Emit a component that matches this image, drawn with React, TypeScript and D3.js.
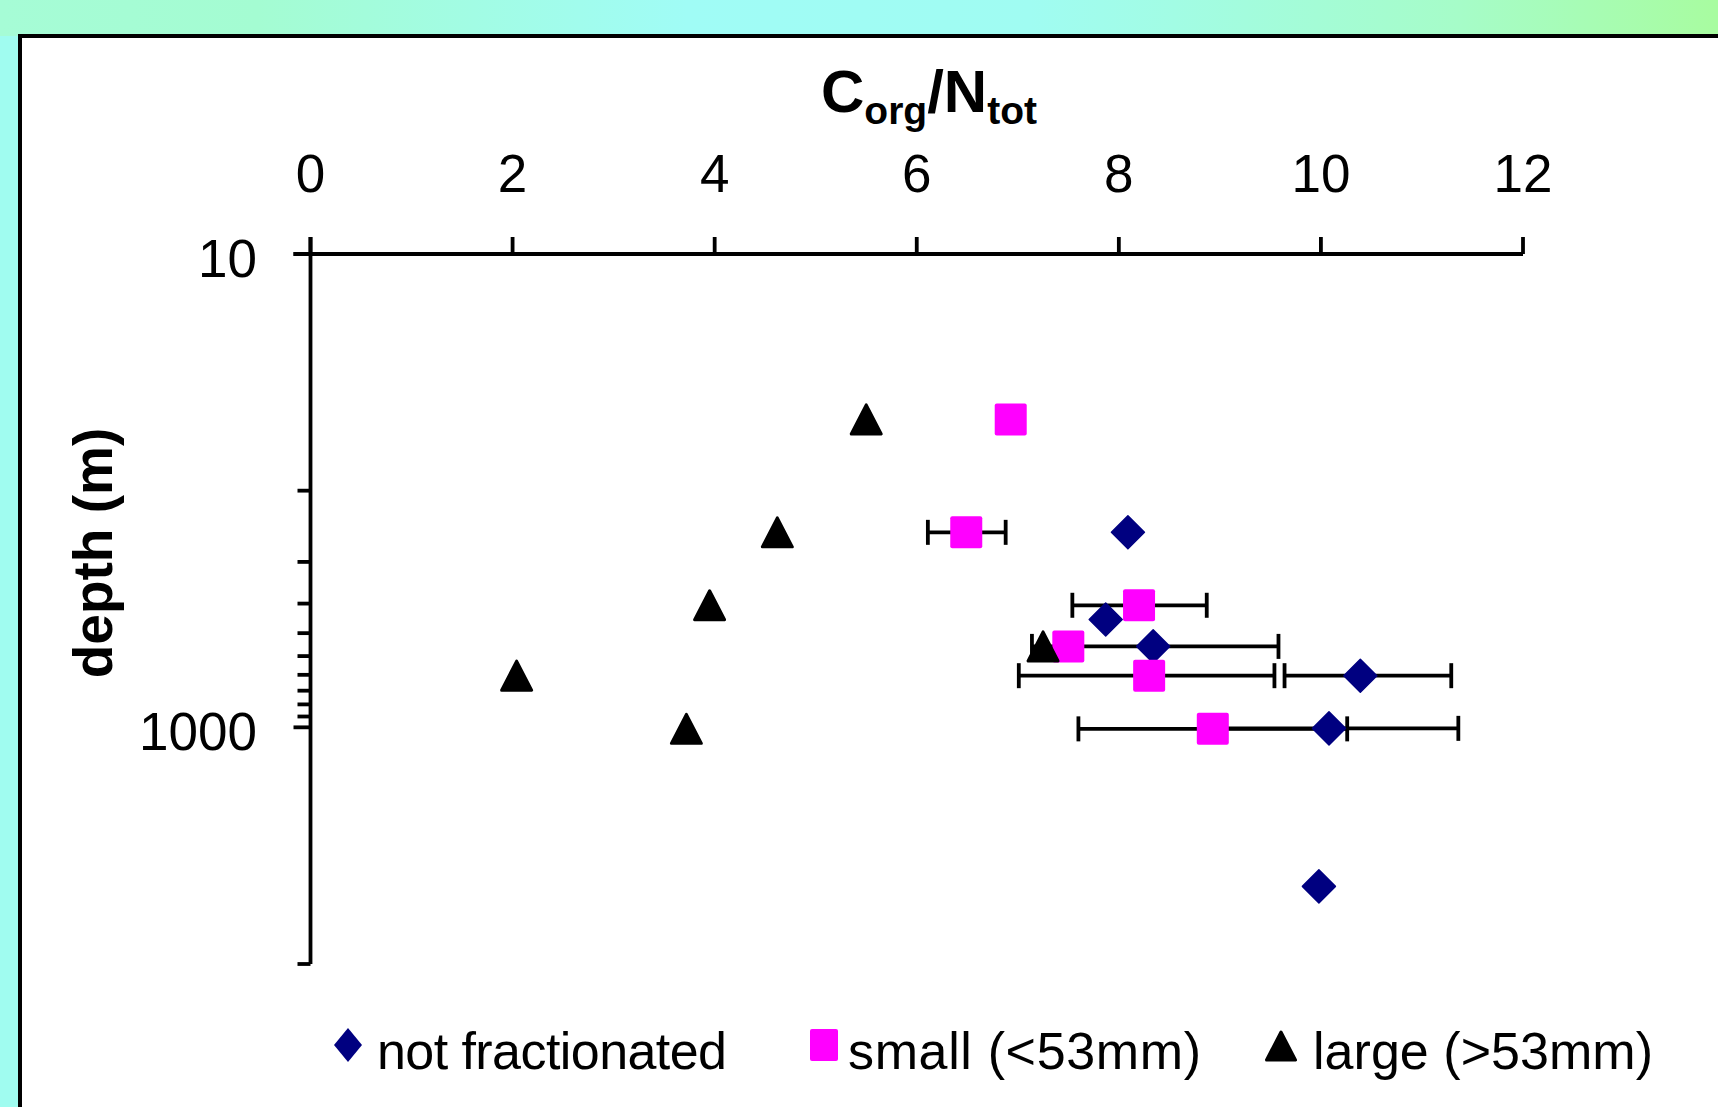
import React from 'react';
import * as d3 from 'd3';

// C/N ratio vs depth, three particle fractions
const nfDepth = [150, 350, 455, 605, 1010, 4700];
const nfRatio = [8.09, 7.87, 8.34, 10.39, 10.08, 9.98];
const nfErrMinus = [0, 0, 1.2, 0.75, 1.28, 0];
const nfErrPlus = [0, 0, 1.24, 0.9, 1.28, 0];

const smallDepth = [50, 150, 305, 455, 605, 1015];
const smallRatio = [6.93, 6.49, 8.2, 7.5, 8.3, 8.93];
const smallErrMinus = [0, 0.38, 0.66, 0, 1.29, 1.33];
const smallErrPlus = [0, 0.39, 0.67, 0, 1.24, 1.33];

const largeDepth = [50, 150, 305, 455, 605, 1015];
const largeRatio = [5.5, 4.62, 3.95, 7.25, 2.04, 3.72];

const xTicks = [0, 2, 4, 6, 8, 10, 12];
const yMajorTicks = [10, 1000];
const yMinorTicks = [100, 200, 300, 400, 500, 600, 700, 800, 900, 10000];

const legendLabels = ['not fractionated', 'small (<53mm)', 'large (>53mm)'];

const W = 1718;
const H = 1107;
const FONT = '"Liberation Sans", Arial, sans-serif';
const LW = 3.8;

const x = d3.scaleLinear().domain([0, 12]).range([310.5, 1523]);
const y = d3.scaleLog().domain([10, 10000]).range([254, 964]);

const diamondPath = (w, h) => `M0,${-h / 2}L${w / 2},0L0,${h / 2}L${-w / 2},0Z`;
const trianglePath = (w, h) => `M0,${-h / 2}L${w / 2},${h / 2}L${-w / 2},${h / 2}Z`;

const ErrorBar = ({ v, d, lo, hi }) => {
  if (!lo && !hi) return null;
  const yy = y(d);
  const x1 = x(v - lo);
  const x2 = x(v + hi);
  return (
    <g stroke="#000" strokeWidth={LW}>
      <line x1={x1} x2={x2} y1={yy} y2={yy} />
      <line x1={x1} x2={x1} y1={yy - 12.5} y2={yy + 12.5} />
      <line x1={x2} x2={x2} y1={yy - 12.5} y2={yy + 12.5} />
    </g>
  );
};

export default function App() {
  return (
    <div style={{ position: 'absolute', left: 0, top: 0 }}>
      <svg width={W} height={H} style={{ display: 'block' }} fontFamily={FONT}>
        <defs>
          <linearGradient id="topBand" x1="0" x2="1" y1="0" y2="0">
            <stop offset="0" stopColor="#a6fcd6" />
            <stop offset="0.15" stopColor="#a4fcd2" />
            <stop offset="0.4" stopColor="#a0fcf6" />
            <stop offset="0.6" stopColor="#a0fcf2" />
            <stop offset="0.85" stopColor="#a6fcc8" />
            <stop offset="1" stopColor="#a8fca0" />
          </linearGradient>
        </defs>

        {/* background */}
        <rect x={0} y={0} width={W} height={H} fill="#a0fcf0" />
        <rect x={0} y={0} width={W} height={36} fill="url(#topBand)" />

        {/* white panel */}
        <rect x={20} y={36} width={W} height={H} fill="#fff" stroke="#000" strokeWidth={4} />

        {/* title */}
        <text x={929} y={112} textAnchor="middle" fontSize={60} fontWeight="bold" fill="#000">
          C<tspan fontSize={39} dy={12}>org</tspan>
          <tspan fontSize={60} dy={-12}>/N</tspan>
          <tspan fontSize={39} dy={12}>tot</tspan>
        </text>

        {/* x axis */}
        <g stroke="#000" strokeWidth={LW}>
          <line x1={x(0) - 17} x2={x(12)} y1={y(10)} y2={y(10)} />
          {xTicks.map(t => (
            <line key={t} x1={x(t)} x2={x(t)} y1={y(10)} y2={y(10) - 17} />
          ))}
        </g>
        {xTicks.map(t => (
          <text key={t} x={x(t)} y={192} textAnchor="middle" fontSize={53} fill="#000">{t}</text>
        ))}

        {/* y axis */}
        <g stroke="#000" strokeWidth={LW}>
          <line x1={x(0)} x2={x(0)} y1={y(10) - 17} y2={y(10000)} />
          {yMajorTicks.map(t => (
            <line key={t} x1={x(0) - 17} x2={x(0)} y1={y(t)} y2={y(t)} />
          ))}
          {yMinorTicks.map(t => (
            <line key={t} x1={x(0) - 13} x2={x(0)} y1={y(t)} y2={y(t)} />
          ))}
        </g>
        {yMajorTicks.map(t => (
          <text key={t} x={257} y={y(t) + 23} textAnchor="end" fontSize={53} fill="#000">{t}</text>
        ))}
        <text
          transform="translate(112,553) rotate(-90)"
          textAnchor="middle"
          fontSize={55}
          fontWeight="bold"
          fill="#000"
        >
          depth (m)
        </text>

        {/* error bars */}
        {nfRatio.map((v, i) => (
          <ErrorBar key={'ne' + i} v={v} d={nfDepth[i]} lo={nfErrMinus[i]} hi={nfErrPlus[i]} />
        ))}
        {smallRatio.map((v, i) => (
          <ErrorBar key={'se' + i} v={v} d={smallDepth[i]} lo={smallErrMinus[i]} hi={smallErrPlus[i]} />
        ))}

        {/* markers */}
        {nfRatio.map((v, i) => (
          <path
            key={'n' + i}
            d={diamondPath(33, 33)}
            transform={`translate(${x(v)},${y(nfDepth[i])})`}
            fill="#000080"
            stroke="#000080"
            strokeWidth={1.5}
            strokeLinejoin="round"
          />
        ))}
        {smallRatio.map((v, i) => (
          <rect
            key={'s' + i}
            x={x(v) - 16}
            y={y(smallDepth[i]) - 16}
            width={32}
            height={32}
            rx={2}
            fill="#ff00ff"
          />
        ))}
        {largeRatio.map((v, i) => (
          <path
            key={'l' + i}
            d={trianglePath(30, 29)}
            transform={`translate(${x(v)},${y(largeDepth[i])})`}
            fill="#000"
            stroke="#000"
            strokeWidth={3}
            strokeLinejoin="round"
          />
        ))}

        {/* legend */}
        <g>
          <path d={diamondPath(28, 34)} transform="translate(348,1045)" fill="#000080" />
          <text x={377} y={1069} fontSize={52} fill="#000" textLength={350} lengthAdjust="spacing">
            {legendLabels[0]}
          </text>
          <rect x={810} y={1029} width={28} height={32} rx={2} fill="#ff00ff" />
          <text x={848} y={1069} fontSize={52} fill="#000" textLength={353} lengthAdjust="spacing">
            {legendLabels[1]}
          </text>
          <path
            d={trianglePath(29, 28)}
            transform="translate(1281,1046)"
            fill="#000"
            stroke="#000"
            strokeWidth={3}
            strokeLinejoin="round"
          />
          <text x={1313} y={1069} fontSize={52} fill="#000" textLength={340} lengthAdjust="spacing">
            {legendLabels[2]}
          </text>
        </g>
      </svg>
    </div>
  );
}
